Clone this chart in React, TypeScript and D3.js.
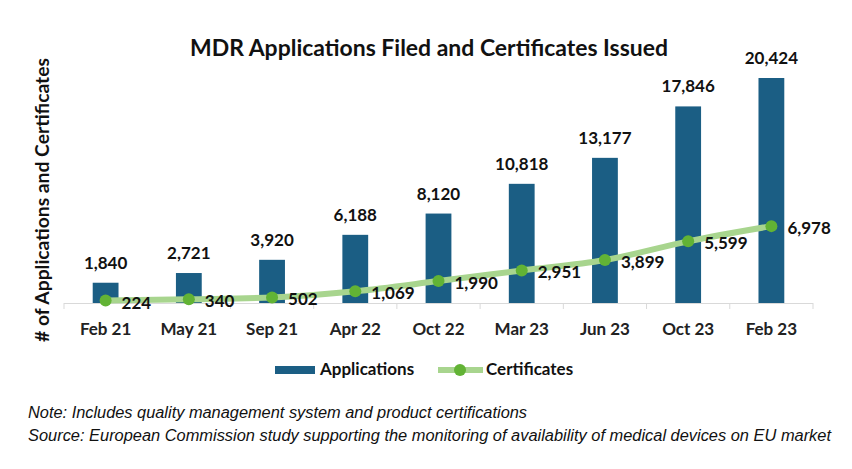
import React from "react";
import * as d3 from "d3";

const categories = ["Feb 21", "May 21", "Sep 21", "Apr 22", "Oct 22", "Mar 23", "Jun 23", "Oct 23", "Feb 23"];
const applications = [1840, 2721, 3920, 6188, 8120, 10818, 13177, 17846, 20424];
const certificates = [224, 340, 502, 1069, 1990, 2951, 3899, 5599, 6978];

const W = 852;
const H = 469;
const BAR = "#1B5E84";
const LINE = "#A8D58E";
const DOT = "#62B335";
const FONT = "Lato, 'Open Sans', sans-serif";
const fmt = d3.format(",");

export default function App() {
  const x = d3.scaleBand<string>().domain(categories).range([64, 813]).padding(0);
  const y = d3.scaleLinear().domain([0, 25000]).range([303, 27.6]);
  const bw = x.bandwidth() * 0.31;
  const cx = (c: string) => (x(c) as number) + x.bandwidth() / 2;
  const pts: [number, number][] = categories.map((c, i) => [cx(c), y(certificates[i])]);
  const line = d3.line().curve(d3.curveMonotoneX)(pts) || "";
  const ticks = d3.range(categories.length + 1).map((i) => 64 + i * x.bandwidth());

  return (
    <svg width={W} height={H} style={{ position: "absolute", left: 0, top: 0, background: "#fff" }} fontFamily={FONT}>
      <rect width={W} height={H} fill="#fff" />
      <text x={429} y={56} textAnchor="middle" fontSize={23} fontWeight={700} fill="#111" textLength={478} lengthAdjust="spacingAndGlyphs">
        MDR Applications Filed and Certificates Issued
      </text>
      <text transform="translate(49,200) rotate(-90)" textAnchor="middle" fontSize={19} fontWeight={700} fill="#111" textLength={284} lengthAdjust="spacingAndGlyphs">
        # of Applications and Certificates
      </text>
      {categories.map((c, i) => (
        <rect key={c} x={cx(c) - bw / 2} y={y(applications[i])} width={bw} height={y(0) - y(applications[i])} fill={BAR} />
      ))}
      <line x1={64} x2={813} y1={303.5} y2={303.5} stroke="#d9d9d9" strokeWidth={1} />
      {ticks.map((t, i) => (
        <line key={i} x1={t} x2={t} y1={303} y2={309} stroke="#d9d9d9" strokeWidth={1} />
      ))}
      {categories.map((c, i) => (
        <text key={c} x={cx(c)} y={y(applications[i]) - 14} textAnchor="middle" fontSize={17} fontWeight={700} fill="#111">
          {fmt(applications[i])}
        </text>
      ))}
      <path d={line} fill="none" stroke={LINE} strokeWidth={6} strokeLinecap="round" />
      {pts.map((p, i) => (
        <circle key={i} cx={p[0]} cy={p[1]} r={6} fill={DOT} />
      ))}
      {pts.map((p, i) => (
        <text key={i} x={p[0] + 16} y={p[1] + 8} fontSize={17} fontWeight={700} fill="#111">
          {fmt(certificates[i])}
        </text>
      ))}
      {categories.map((c) => (
        <text key={c} x={cx(c)} y={335} textAnchor="middle" fontSize={17} fontWeight={700} fill="#222">
          {c}
        </text>
      ))}
      <rect x={275} y={366} width={40} height={8} fill={BAR} />
      <text x={320} y={375} fontSize={17} fontWeight={700} fill="#111">Applications</text>
      <line x1={438} x2={483} y1={370} y2={370} stroke={LINE} strokeWidth={6} />
      <circle cx={460} cy={370} r={6} fill={DOT} />
      <text x={486} y={375} fontSize={17} fontWeight={700} fill="#111">Certificates</text>
      <text x={28} y={418} fontSize={16} fontStyle="italic" fill="#111" fontFamily="'Liberation Sans', sans-serif" textLength={499} lengthAdjust="spacingAndGlyphs">
        Note: Includes quality management system and product certifications
      </text>
      <text x={28} y={441} fontSize={16} fontStyle="italic" fill="#111" fontFamily="'Liberation Sans', sans-serif" textLength={803} lengthAdjust="spacingAndGlyphs">
        Source: European Commission study supporting the monitoring of availability of medical devices on EU market
      </text>
    </svg>
  );
}
